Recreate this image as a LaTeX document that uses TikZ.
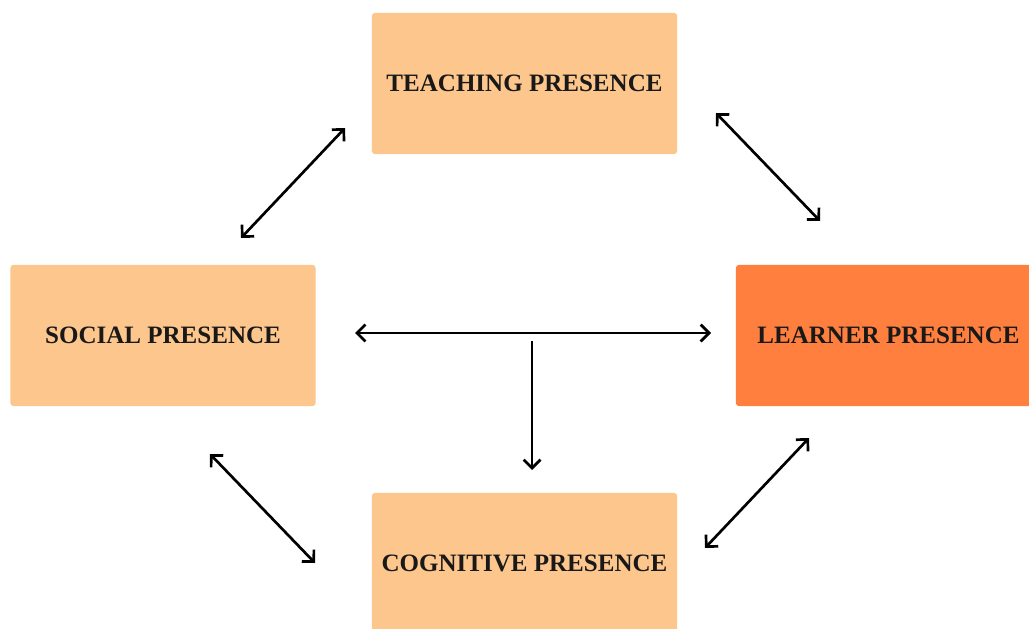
\documentclass[tikz,border=0pt]{standalone}
\usepackage{fontspec}
\setmainfont{Liberation Serif}
\usepackage{xcolor}
\usetikzlibrary{arrows.meta, positioning}
\definecolor{paleorange}{HTML}{FCC68C}
\definecolor{deeporange}{HTML}{FF7F3F}
\tikzset{
    presence/.style={
        rectangle,
        rounded corners=2pt,
        fill=paleorange,
        minimum width=7.625cm,
        minimum height=3.525cm,
        font=\fontsize{17.8}{20}\selectfont\bfseries,
        text=black!90
    },
    link/.style={
        draw=black,
        line width=1.9pt,
        {Straight Barb[length=6pt,width=12pt]}-{Straight Barb[length=6pt,width=12pt]}
    },
    oneway/.style={
        draw=black,
        line width=1.9pt,
        -{Straight Barb[length=6pt,width=12pt]}
    }
}

\begin{document}
\begin{tikzpicture}[x=0.025cm, y=-0.025cm]
\useasboundingbox (0,0) rectangle (1029,629);
\clip (0,0) rectangle (1029,629);

% Presence boxes
\node[presence] (teach) at (524.5,83.5) {TEACHING PRESENCE};
\node[presence] (social) at (163,335.5) {SOCIAL PRESENCE};
\node[presence, fill=deeporange] (learner) at (888.5,335.5) {LEARNER PRESENCE};
\node[presence] (cogn) at (524.5,563.5) {COGNITIVE PRESENCE};

% Arrow ends
\coordinate (ts_a) at (345,128);
\coordinate (ts_b) at (241,238);
\coordinate (tl_a) at (716,113);
\coordinate (tl_b) at (820,221);
\coordinate (sl_a) at (355,333);
\coordinate (sl_b) at (711,333);
\coordinate (down_a) at (532,341);
\coordinate (down_b) at (532,470);
\coordinate (sc_a) at (210,454);
\coordinate (sc_b) at (315,563);
\coordinate (cl_a) at (705,548);
\coordinate (cl_b) at (809,438);

% Connections
\draw[link] (ts_a) -- (ts_b);
\draw[link] (tl_a) -- (tl_b);
\draw[link] (sl_a) -- (sl_b);
\draw[oneway] (down_a) -- (down_b);
\draw[link] (sc_a) -- (sc_b);
\draw[link] (cl_a) -- (cl_b);

\end{tikzpicture}
\end{document}
